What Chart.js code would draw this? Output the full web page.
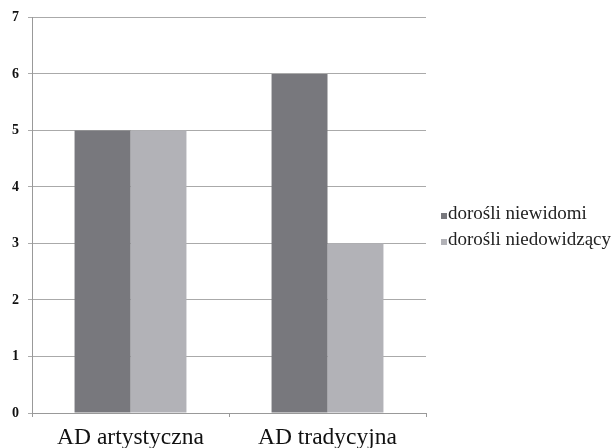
<!DOCTYPE html>
<html>
<head>
<meta charset="utf-8">
<script src="https://cdn.jsdelivr.net/npm/chart.js@4/dist/chart.umd.min.js"></script>
<style>
  html, body { margin: 0; padding: 0; background: #fff; }
  #wrap { width: 615px; height: 448px; }
</style>
</head>
<body>
<div id="wrap"><canvas id="barChart"></canvas></div>
<script>
const categories = ['AD artystyczna', 'AD tradycyjna']
const seriesNames = ['dorośli niewidomi', 'dorośli niedowidzący']
const blindVals = [5, 6]
const lowVisionVals = [5, 3]
const yTicks = [0, 1, 2, 3, 4, 5, 6, 7]

const serif = "'Liberation Serif', 'Times New Roman', serif"

// legend drawn beside the plot, like the original office chart
const sideLegend = {
    id: 'sideLegend',
    afterDraw(chart) {
        const c = chart.ctx
        const x = chart.chartArea.right + 15
        let y = 219
        c.save()
        c.font = `19px ${serif}`
        c.textBaseline = 'alphabetic'
        c.textAlign = 'left'
        chart.data.datasets.forEach(ds => {
            c.fillStyle = ds.backgroundColor
            c.fillRect(x, y - 6, 6, 6)
            c.fillStyle = '#222'
            c.fillText(ds.label, x + 7, y)
            y += 26
        })
        c.restore()
    }
}

const ctx = document.getElementById('barChart')

const barChart = new Chart(ctx, {
    type: 'bar',
    data: {
        labels: categories,
        datasets: [{
            label: seriesNames[0],
            data: blindVals,
            backgroundColor: 'rgb(120, 120, 125)'
        }, {
            label: seriesNames[1],
            data: lowVisionVals,
            backgroundColor: 'rgb(178, 178, 183)'
        }]
    },
    options: {
        responsive: true,
        maintainAspectRatio: false,
        animation: false,
        categoryPercentage: 0.568,
        barPercentage: 1.0,
        layout: { padding: { top: 7, left: 0, right: 189, bottom: 0 } },
        plugins: {
            tooltip: { enabled: false },
            legend: { display: false }
        },
        scales: {
            x: {
                afterFit: (axis) => { axis.height = 35 },
                grid: {
                    offset: true,
                    drawOnChartArea: false,
                    tickLength: 4,
                    color: '#999'
                },
                border: { color: '#999' },
                ticks: {
                    color: '#111',
                    padding: 7,
                    font: { family: serif, size: 23.5 }
                }
            },
            y: {
                min: 0,
                max: 7,
                afterFit: (axis) => { axis.width = 32 },
                afterBuildTicks: (axis) => { axis.ticks = yTicks.map(v => ({ value: v })) },
                grid: { color: '#aaa', tickLength: 4 },
                border: { color: '#999' },
                ticks: {
                    color: '#111',
                    padding: 9,
                    font: { family: serif, size: 14, weight: 'bold' }
                }
            }
        }
    },
    plugins: [sideLegend]
});
</script>
</body>
</html>
